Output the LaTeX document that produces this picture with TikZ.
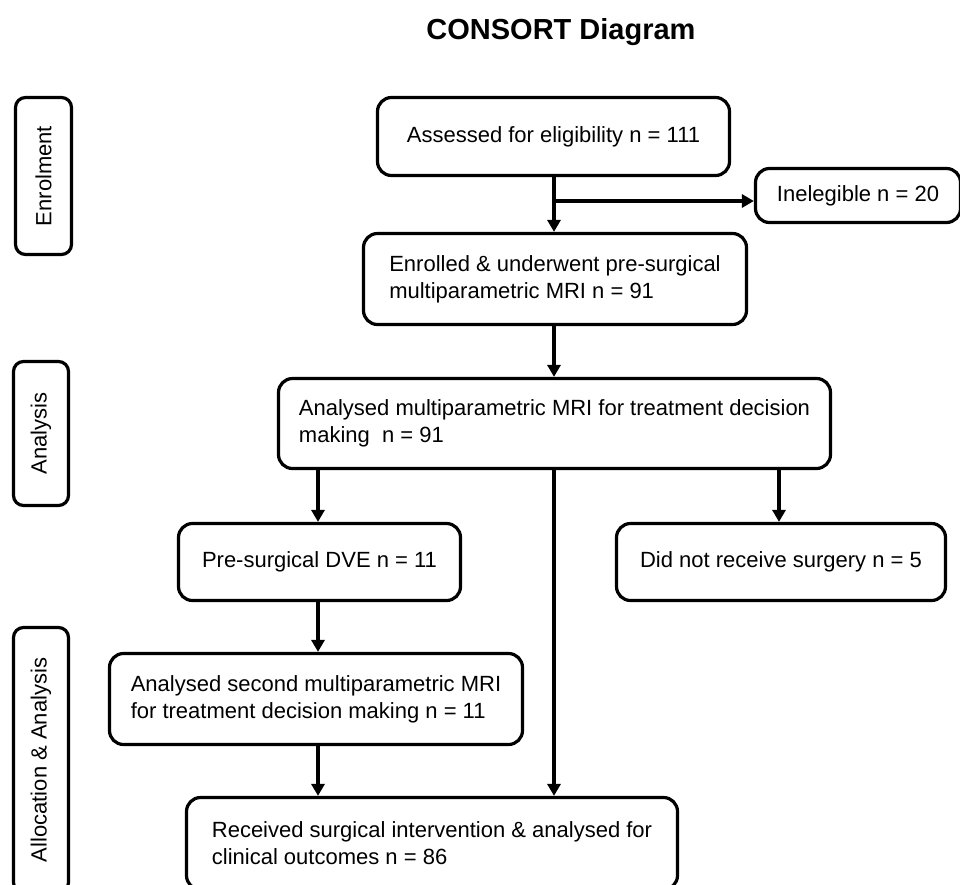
\documentclass[tikz,border=0pt]{standalone}
\usepackage{fontspec}
\setmainfont{Liberation Sans}
\usetikzlibrary{arrows.meta,calc}
\tikzset{
  box/.style={draw=black, line width=3.2pt, rounded corners=14pt, inner sep=0pt,
    align=left, font=\fontsize{22}{27}\selectfont, fill=white},
  sidebox/.style={draw=black, line width=3.2pt, rounded corners=10pt, inner sep=0pt,
    align=center, font=\fontsize{22}{27}\selectfont},
  sidelabel/.style={rotate=90, font=\fontsize{22}{27}\selectfont, inner sep=0pt},
  arr/.style={line width=3.2pt, -{Triangle[length=12pt,width=13pt]}}
}
\begin{document}
\begin{tikzpicture}[x=1pt,y=-1pt]
\useasboundingbox (0,0) rectangle (960,884);
% title
\node[anchor=base, font=\fontsize{29}{34}\selectfont\bfseries, inner sep=0pt] (title) at (561,39) {CONSORT Diagram};
% side stage boxes
\node[sidebox, minimum width=56pt, minimum height=157pt] (enrolbox) at (43.5,176) {};
\node[sidelabel] (enrollab) at (enrolbox.center) {Enrolment};
\node[sidebox, minimum width=55pt, minimum height=144pt] (anabox) at (41,433.5) {};
\node[sidelabel] (analab) at (anabox.center) {Analysis};
\node[sidebox, minimum width=55pt, minimum height=265pt] (allocbox) at (41,760) {};
\node[sidelabel] (alloclab) at (allocbox.center) {Allocation \& Analysis};
% flow boxes
\node[box, minimum width=352pt, minimum height=78pt] (assessed) at (553.5,136.5) {Assessed for eligibility n = 111};
\node[box, minimum width=205pt, minimum height=54pt] (inelig) at (858,195.5) {Inelegible n = 20};
\node[box, minimum width=383pt, minimum height=91pt] (enrolled) at (555,279) {Enrolled \& underwent pre-surgical\\multiparametric MRI n = 91};
\node[box, minimum width=552pt, minimum height=90pt] (analysed) at (554.5,423.5) {Analysed multiparametric MRI for treatment decision\\making~~n = 91};
\node[box, minimum width=282pt, minimum height=77pt] (dve) at (319.5,562) {Pre-surgical DVE n = 11};
\node[box, minimum width=329pt, minimum height=77pt] (nosurg) at (781,562) {Did not receive surgery n = 5};
\node[box, minimum width=413pt, minimum height=91pt] (second) at (316,699) {Analysed second multiparametric MRI\\for treatment decision making n = 11};
\node[box, minimum width=491pt, minimum height=92pt] (received) at (432,843.5) {Received surgical intervention \& analysed for\\clinical outcomes n = 86};
% connectors
\coordinate (top) at (554,0);
\coordinate (j1) at (554,201);
\draw[arr] (top |- assessed.south) -- (top |- enrolled.north);
\draw[arr] (j1) -- (j1 -| inelig.west);
\draw[arr] (top |- enrolled.south) -- (top |- analysed.north);
\coordinate (lx) at (318,0);
\coordinate (rx) at (779,0);
\draw[arr] (lx |- analysed.south) -- (lx |- dve.north);
\draw[arr] (rx |- analysed.south) -- (rx |- nosurg.north);
\draw[arr] (top |- analysed.south) -- (top |- received.north);
\draw[arr] (lx |- dve.south) -- (lx |- second.north);
\draw[arr] (lx |- second.south) -- (lx |- received.north);
\end{tikzpicture}
\end{document}
